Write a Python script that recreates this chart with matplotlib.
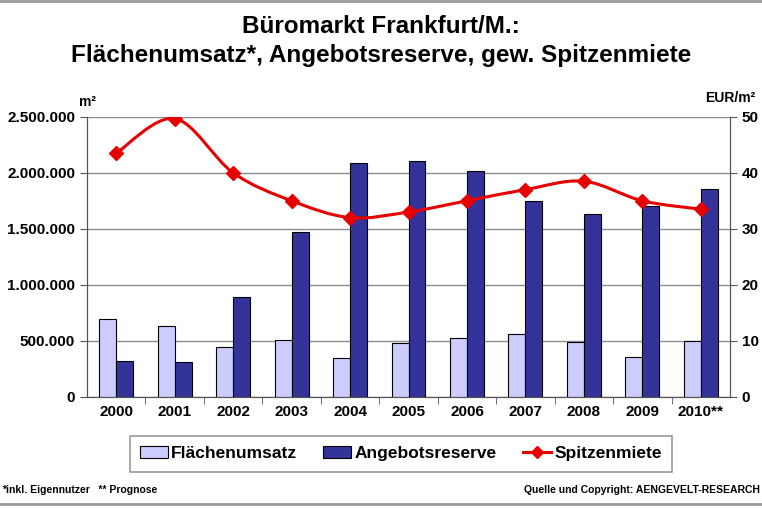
import numpy as np
import matplotlib.pyplot as plt
from matplotlib.path import Path
from matplotlib.patches import PathPatch, Patch
from matplotlib.lines import Line2D
from matplotlib.ticker import FuncFormatter

plt.rcParams['font.family'] = ['Liberation Sans', 'DejaVu Sans']
plt.rcParams['font.weight'] = 'bold'

years = ["2000", "2001", "2002", "2003", "2004", "2005", "2006",
         "2007", "2008", "2009", "2010**"]
flaechenumsatz = [695000, 630000, 446000, 506000, 343000, 482000,
                  527000, 560000, 491000, 357000, 497000]
angebotsreserve = [319000, 313000, 893000, 1470000, 2084000, 2104000,
                   2018000, 1750000, 1628000, 1703000, 1852000]
spitzenmiete = [43.5, 49.7, 40.0, 35.0, 32.0, 33.0, 35.0, 37.0, 38.5, 35.0, 33.5]

light = "#CCCCFF"
dark = "#333399"
red = "#E60000"

fig = plt.figure(figsize=(7.62, 5.08), dpi=100)
ax = fig.add_axes([0.1142, 0.219, 0.8438, 0.551])
ax2 = ax.twinx()

x = np.arange(len(years))
w = 0.29
ax.bar(x - w / 2, flaechenumsatz, w, color=light, edgecolor="black", linewidth=0.8, zorder=3)
ax.bar(x + w / 2, angebotsreserve, w, color=dark, edgecolor="black", linewidth=0.8, zorder=3)

ax.set_xlim(-0.5, len(years) - 0.5)
ax.set_ylim(0, 2500000)
ax.set_yticks(np.arange(0, 2500001, 500000))
ax.yaxis.set_major_formatter(FuncFormatter(lambda v, p: f"{int(v):,}".replace(",", ".")))
ax.grid(axis="y", color="#8c8c8c", linewidth=1, zorder=0)
ax.set_axisbelow(True)

# year labels centred, ticks between categories
ax.set_xticks(x)
ax.set_xticklabels(years, fontsize=11, fontweight="bold")
ax.tick_params(axis="x", which="major", length=0, pad=6)
ax.set_xticks(np.arange(0.5, len(years) - 0.5), minor=True)
ax.tick_params(axis="x", which="minor", length=5, direction="out", color="#555555")
ax.tick_params(axis="y", labelsize=11, length=5, color="#555555")

ax2.set_ylim(0, 50)
ax2.set_yticks(np.arange(0, 51, 10))
ax2.tick_params(axis="y", labelsize=11, length=5, color="#555555")
for lbl in ax.get_yticklabels() + ax2.get_yticklabels():
    lbl.set_fontweight("bold")

for a in (ax, ax2):
    a.spines["top"].set_visible(False)
    for s in ("left", "right", "bottom"):
        a.spines[s].set_color("#555555")

# smoothed line (Catmull-Rom as cubic Bezier) + diamond markers
pts = np.column_stack([x, spitzenmiete]).astype(float)
ext = np.vstack([pts[0], pts, pts[-1]])
verts = [tuple(pts[0])]
codes = [Path.MOVETO]
for i in range(len(pts) - 1):
    p0, p1, p2, p3 = ext[i], ext[i + 1], ext[i + 2], ext[i + 3]
    c1 = p1 + (p2 - p0) / 6
    c2 = p2 - (p3 - p1) / 6
    verts += [tuple(c1), tuple(c2), tuple(p2)]
    codes += [Path.CURVE4] * 3
ax2.add_patch(PathPatch(Path(verts, codes), facecolor="none", edgecolor=red,
                        linewidth=2.2, zorder=4))
ax2.plot(x, spitzenmiete, linestyle="none", marker="D", markersize=7,
         color=red, zorder=5)

fig.text(0.5, 0.948, "Büromarkt Frankfurt/M.:", ha="center", va="center",
         fontsize=17.5, fontweight="bold")
fig.text(0.5, 0.89, "Flächenumsatz*, Angebotsreserve, gew. Spitzenmiete",
         ha="center", va="center", fontsize=17.5, fontweight="bold")
fig.text(0.1142, 0.80, "m²", ha="center", va="center", fontsize=10, fontweight="bold")
fig.text(0.958, 0.807, "EUR/m²", ha="center", va="center", fontsize=10, fontweight="bold")

handles = [Patch(facecolor=light, edgecolor="black", linewidth=0.8),
           Patch(facecolor=dark, edgecolor="black", linewidth=0.8),
           Line2D([], [], color=red, linewidth=2.2, marker="D", markersize=6)]
leg = fig.legend(handles, ["Flächenumsatz", "Angebotsreserve", "Spitzenmiete"],
                 loc="center", bbox_to_anchor=(0.526, 0.107), ncol=3,
                 fancybox=False, fontsize=12.5, handlelength=1.6, handletextpad=0.2,
                 columnspacing=1.5, borderpad=0.6, borderaxespad=0, frameon=True)
leg.get_frame().set_edgecolor("#808080")
leg.get_frame().set_linewidth(1.2)

fig.text(0.002, 0.035, "*inkl. Eigennutzer   ** Prognose", ha="left", va="center",
         fontsize=7.5, fontweight="bold")
fig.text(0.997, 0.035, "Quelle und Copyright: AENGEVELT-RESEARCH", ha="right",
         va="center", fontsize=7.5, fontweight="bold")
for yy in (0.007, 0.998):
    fig.add_artist(Line2D([0, 1], [yy, yy], color="#999999", linewidth=2,
                          transform=fig.transFigure))

fig.savefig("out.png", dpi=100)
